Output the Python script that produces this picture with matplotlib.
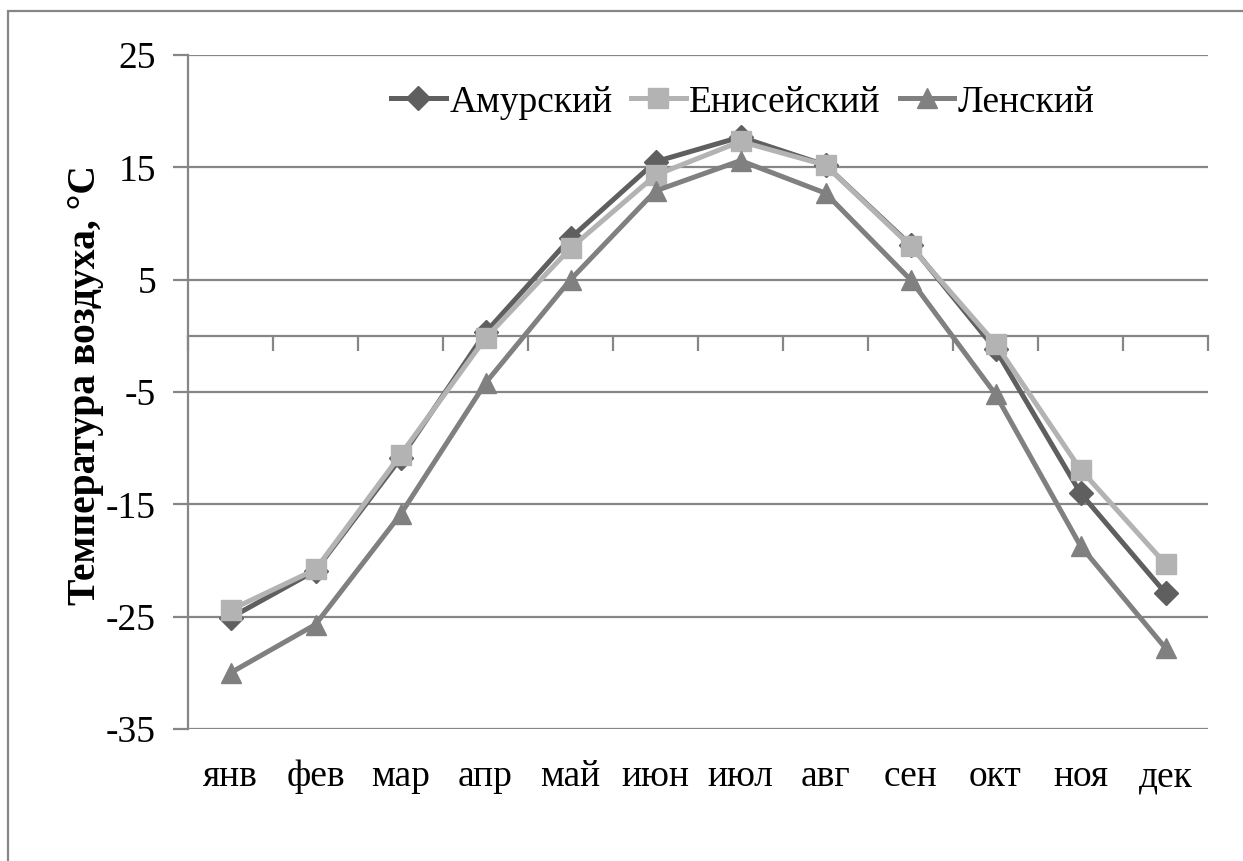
#!/usr/bin/env python3
# -*- coding: utf-8 -*-
"""Monthly mean air temperature for three river basins."""
import numpy as np
import matplotlib
matplotlib.use("Agg")
import matplotlib.pyplot as plt
from matplotlib.patches import Rectangle

months = ["янв", "фев", "мар", "апр", "май", "июн",
          "июл", "авг", "сен", "окт", "ноя", "дек"]
amur = [-25.1, -20.9, -10.9, 0.3, 8.7, 15.5, 17.7, 15.2, 8.1, -1.2, -14.0, -22.9]
yenisei = [-24.4, -20.8, -10.6, -0.2, 7.8, 14.3, 17.3, 15.2, 8.0, -0.7, -11.9, -20.3]
lena = [-30.0, -25.7, -15.9, -4.2, 5.0, 12.9, 15.6, 12.7, 5.0, -5.2, -18.7, -27.8]
names = ["Амурский", "Енисейский", "Ленский"]
yticks = [-35, -25, -15, -5, 5, 15, 25]

grid_c = "#868686"
plt.rcParams["font.family"] = ["Liberation Serif", "DejaVu Serif"]

fig = plt.figure(figsize=(12.43, 8.61), dpi=100)
# outer chart border (clipped on the right/bottom like the original)
fig.patches.append(Rectangle((8 / 1243, -0.1), 1.2, 1 - 11 / 861 + 0.1,
                             transform=fig.transFigure, fill=False,
                             edgecolor=grid_c, linewidth=1.6))

ax = fig.add_axes([188 / 1243, 1 - 729 / 861, 1020 / 1243, 674 / 861])
x = np.arange(1, len(months) + 1)

styles = [("#5f5f5f", "D", 12), ("#b3b3b3", "s", 14), ("#808080", "^", 14)]
for vals, name, (c, m, ms) in zip([amur, yenisei, lena], names, styles):
    ax.plot(x, vals, color=c, lw=3.6, marker=m, ms=ms, mec=c, mfc=c, label=name)

ax.set_xlim(0.5, len(months) + 0.5)
ax.set_ylim(yticks[0], yticks[-1])
ax.set_yticks(yticks)
ax.set_yticklabels([str(v) for v in yticks])
ax.yaxis.grid(True, color=grid_c, lw=1.6)
ax.set_axisbelow(True)
ax.tick_params(axis="y", direction="out", length=11, width=1.6, color=grid_c,
               labelsize=27, pad=12)

ax.set_xticks(x)
ax.set_xticklabels(months)
ax.tick_params(axis="x", length=0, labelsize=27, pad=22)

for s in ["top", "right", "bottom"]:
    ax.spines[s].set_visible(False)
ax.spines["left"].set_color(grid_c)
ax.spines["left"].set_linewidth(1.6)

# category axis crossing at zero, ticks between categories
zero_pos = (0 - yticks[0]) / (yticks[-1] - yticks[0])
sec = ax.secondary_xaxis(zero_pos)
sec.set_xticks(np.arange(0.5, len(months) + 1))
sec.set_xticklabels([])
sec.tick_params(direction="in", length=11, width=1.6, color=grid_c)
for sp in sec.spines.values():
    sp.set_color(grid_c)
    sp.set_linewidth(1.6)

fig.text(86 / 1243, 1 - 385 / 861, "Температура воздуха, °С", rotation=90,
         ha="center", va="center", fontsize=28.5, fontweight="bold")

ax.legend(loc="upper center", bbox_to_anchor=(0.544, 1.0), ncol=3, frameon=False,
          fontsize=27, handlelength=1.45, handletextpad=0.1, columnspacing=0.5,
          borderaxespad=0.4)

fig.savefig("out.png", dpi=100)
